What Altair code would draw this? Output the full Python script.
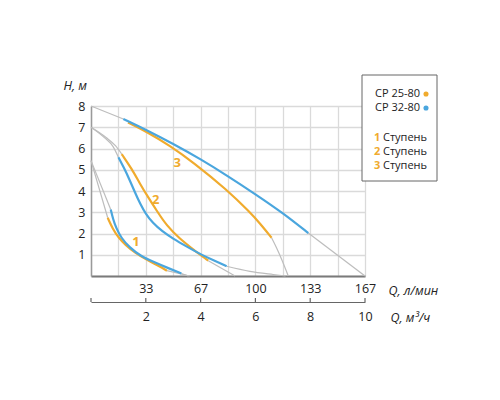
import altair as alt
import pandas as pd

# ---------------- data (Q in m3/h, H in m) ----------------
# stage 3
s3_cp32_q = [1.18, 2.0, 3.0, 4.0, 5.0, 6.0, 7.0, 7.93]
s3_cp32_h = [7.39, 6.89, 6.22, 5.5, 4.7, 3.85, 2.97, 2.02]
s3_cp25_q = [1.35, 2.03, 2.88, 3.73, 4.95, 5.80, 6.17, 6.59]
s3_cp25_h = [7.22, 6.79, 6.13, 5.35, 4.07, 3.0, 2.47, 1.80]
# stage 2
s2_cp32_q = [1.0, 1.2, 1.4, 1.6, 1.8, 2.0, 2.25, 2.6, 3.0, 3.5, 4.0, 4.5, 4.95]
s2_cp32_h = [5.59, 5.1, 4.55, 3.95, 3.38, 2.92, 2.5, 2.1, 1.75, 1.38, 1.02, 0.72, 0.46]
s2_cp25_q = [1.12, 1.49, 1.79, 2.09, 2.40, 2.76, 3.25, 3.73, 4.28]
s2_cp25_h = [5.74, 5.04, 4.33, 3.70, 3.07, 2.37, 1.74, 1.25, 0.72]
# stage 1
s1_cp32_q = [0.72, 0.8, 0.92, 1.1, 1.4, 1.8, 2.3, 2.8, 3.3]
s1_cp32_h = [3.13, 2.7, 2.25, 1.8, 1.35, 0.95, 0.65, 0.38, 0.12]
s1_cp25_q = [0.61, 0.8, 1.0, 1.25, 1.6, 2.05, 2.5, 2.77]
s1_cp25_h = [2.74, 2.2, 1.82, 1.47, 1.1, 0.75, 0.45, 0.25]

# grey extensions
g3_head_q, g3_head_h = [0, 1.18], [8, 7.39]
g3_cp32_tail_q, g3_cp32_tail_h = [7.93, 10], [2.02, 0]
g3_cp25_tail_q, g3_cp25_tail_h = [6.59, 6.77, 6.96, 7.2], [1.80, 1.33, 0.78, 0]
g2_cp32_head_q, g2_cp32_head_h = [0, 0.5, 0.8, 1.0], [7, 6.5, 6.1, 5.59]
g2_cp25_head_q, g2_cp25_head_h = [0, 0.55, 0.9, 1.12], [7, 6.52, 6.12, 5.74]
g2_cp32_tail_q, g2_cp32_tail_h = [4.95, 5.8, 6.65, 7.1], [0.46, 0.22, 0.07, 0]
g2_cp25_tail_q, g2_cp25_tail_h = [4.28, 5.26], [0.72, 0]
g1_cp32_head_q, g1_cp32_head_h = [0, 0.72], [5.43, 3.13]
g1_cp25_head_q, g1_cp25_head_h = [0, 0.61], [5.43, 2.74]
g1_cp32_tail_q, g1_cp32_tail_h = [3.3, 3.55], [0.12, 0]
g1_cp25_tail_q, g1_cp25_tail_h = [2.77, 3.6], [0.25, 0]

stage_labels = ["1", "2", "3"]
stage_label_q = [1.64, 2.36, 3.15]
stage_label_h = [1.59, 3.6, 5.33]

m3h_ticks = [0, 2, 4, 6, 8, 10]
lmin_labels = ["", "33", "67", "100", "133", "167"]
h_ticks = [0, 1, 2, 3, 4, 5, 6, 7, 8]

ORANGE = "#F0AB2D"
BLUE = "#4AA6DE"
GREY = "#BDBDBD"
FONT = "Open Sans"
FS = 12.5
W, H = 274, 170


def series(name, q, h):
    return pd.DataFrame({"q": q, "h": h, "s": name})


grey_df = pd.concat([
    series("g3h", g3_head_q, g3_head_h),
    series("g3bt", g3_cp32_tail_q, g3_cp32_tail_h),
    series("g3ot", g3_cp25_tail_q, g3_cp25_tail_h),
    series("g2bh", g2_cp32_head_q, g2_cp32_head_h),
    series("g2oh", g2_cp25_head_q, g2_cp25_head_h),
    series("g2bt", g2_cp32_tail_q, g2_cp32_tail_h),
    series("g2ot", g2_cp25_tail_q, g2_cp25_tail_h),
    series("g1bh", g1_cp32_head_q, g1_cp32_head_h),
    series("g1oh", g1_cp25_head_q, g1_cp25_head_h),
    series("g1bt", g1_cp32_tail_q, g1_cp32_tail_h),
    series("g1ot", g1_cp25_tail_q, g1_cp25_tail_h),
])
orange_df = pd.concat([
    series("o3", s3_cp25_q, s3_cp25_h),
    series("o2", s2_cp25_q, s2_cp25_h),
    series("o1", s1_cp25_q, s1_cp25_h),
])
blue_df = pd.concat([
    series("b3", s3_cp32_q, s3_cp32_h),
    series("b2", s2_cp32_q, s2_cp32_h),
    series("b1", s1_cp32_q, s1_cp32_h),
])

xscale = alt.Scale(domain=[0, 10], nice=False, zero=False)
yscale = alt.Scale(domain=[0, 8], nice=False, zero=False)

label_expr = " : ".join(
    f"datum.value == {v} ? '{l}'" for v, l in zip(m3h_ticks, lmin_labels)
) + " : ''"

main_x_axis = alt.Axis(
    values=list(range(11)), grid=True, gridColor="#DADADA", gridWidth=1.3,
    ticks=False, domainColor="#7A7A7A", domainWidth=2, labelExpr=label_expr,
    labelFont=FONT, labelFontSize=FS, labelColor="#222", labelPadding=6,
    labelFlush=False, labelOverlap=False,
    title="Q, л/мин", titleFont=FONT, titleFontSize=FS, titleFontStyle="italic",
    titleFontWeight="normal", titleColor="#222", titleX=297, titleY=14,
    titleAlign="left", titleBaseline="middle", titleAnchor="start",
)
y_axis = alt.Axis(
    values=h_ticks, grid=True, gridColor="#DADADA", gridWidth=1.3, ticks=False,
    domainColor="#9A9A9A", domainWidth=1.5,
    labelExpr="datum.value == 0 ? '' : datum.label",
    labelFont=FONT, labelFontSize=FS, labelColor="#222", labelPadding=6,
    title="H, м", titleFont=FONT, titleFontSize=FS, titleFontStyle="italic",
    titleFontWeight="normal", titleColor="#222", titleAngle=0, titleX=-28,
    titleY=-21, titleAlign="left", titleBaseline="middle",
)
second_x_axis = alt.Axis(
    orient="bottom", offset=26, values=m3h_ticks, grid=False, ticks=False,
    domainColor="#666", domainWidth=1.2,
    labelExpr="datum.value == 0 ? '' : datum.label",
    labelFont=FONT, labelFontSize=FS, labelColor="#222", labelPadding=8,
    labelFlush=False, labelOverlap=False,
    title="Q, м³/ч", titleFont=FONT, titleFontSize=FS, titleFontStyle="italic",
    titleFontWeight="normal", titleColor="#222", titleX=299, titleY=15,
    titleAlign="left", titleBaseline="middle", titleAnchor="start",
)

grey = alt.Chart(grey_df).mark_line(color=GREY, strokeWidth=1.2, interpolate="monotone").encode(
    x=alt.X("q:Q", scale=xscale, axis=main_x_axis),
    y=alt.Y("h:Q", scale=yscale, axis=y_axis),
    detail="s:N",
)
orange = alt.Chart(orange_df).mark_line(color=ORANGE, strokeWidth=2.2, interpolate="basis").encode(
    x=alt.X("q:Q", scale=xscale, axis=None),
    y=alt.Y("h:Q", scale=yscale, axis=None),
    detail="s:N",
)
blue = alt.Chart(blue_df).mark_line(color=BLUE, strokeWidth=2.2, interpolate="basis").encode(
    x=alt.X("q:Q", scale=xscale, axis=None),
    y=alt.Y("h:Q", scale=yscale, axis=None),
    detail="s:N",
)

labels_df = pd.DataFrame({"q": stage_label_q, "h": stage_label_h, "t": stage_labels})
stage_text = alt.Chart(labels_df).mark_text(
    font=FONT, fontSize=13, fontWeight="bold", color=ORANGE, align="center", baseline="middle"
).encode(
    x=alt.X("q:Q", scale=xscale, axis=None),
    y=alt.Y("h:Q", scale=yscale, axis=None),
    text="t:N",
)

ticks_df = pd.DataFrame({"q": m3h_ticks})
second_axis = alt.Chart(ticks_df).mark_rule(color="#666", strokeWidth=1.2).encode(
    x=alt.X("q:Q", scale=xscale, axis=second_x_axis),
    y=alt.value(H + 22),
    y2=alt.value(H + 26),
)

one = pd.DataFrame({"a": [0]})
box = alt.Chart(one).mark_rect(fill="white", stroke="#666", strokeWidth=1).encode(
    x=alt.value(271), x2=alt.value(346), y=alt.value(-31), y2=alt.value(75)
)


def legend_text(txt, x, y, color="#222", weight="normal"):
    return alt.Chart(one).mark_text(
        font=FONT, fontSize=11, color=color, align="left", baseline="middle",
        fontWeight=weight,
    ).encode(x=alt.value(x), y=alt.value(y), text=alt.value(txt))


def legend_dot(color, x, y):
    return alt.Chart(one).mark_circle(color=color, opacity=1, size=26).encode(
        x=alt.value(x), y=alt.value(y)
    )


legend_layers = [
    box,
    legend_text("CP 25-80", 284, -12),
    legend_dot(ORANGE, 335, -12),
    legend_text("CP 32-80", 284, 2),
    legend_dot(BLUE, 335, 2),
]
for i, yy in enumerate([32, 46, 60]):
    legend_layers.append(legend_text(stage_labels[i], 283, yy, ORANGE, "bold"))
    legend_layers.append(legend_text("Ступень", 292, yy))

chart = alt.layer(
    grey, orange, blue, stage_text, second_axis, *legend_layers
).resolve_axis(x="independent", y="independent").properties(
    width=W, height=H,
    autosize=alt.AutoSizeParams(type="none"),
    padding={"left": 83, "top": 98, "right": 120, "bottom": 110},
).configure_view(stroke=None)

chart.save("out.html", embed_options={"renderer": "svg", "actions": False})
